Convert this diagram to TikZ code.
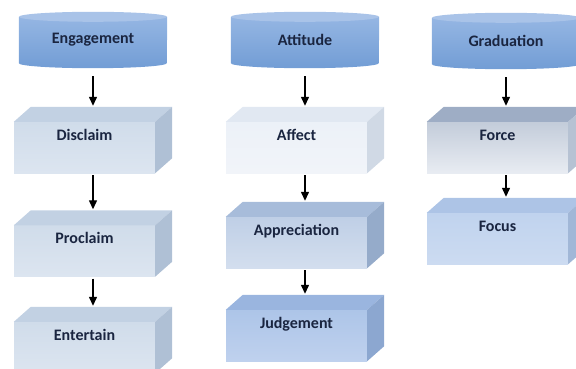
\documentclass[tikz,border=0pt]{standalone}
\usepackage{fontspec}
\setmainfont{Carlito}
\usetikzlibrary{arrows.meta,backgrounds}

\definecolor{ink}{HTML}{1A2540}
\definecolor{cylA}{HTML}{95B6E3}
\definecolor{cylB}{HTML}{729DD5}
\definecolor{cyltop}{HTML}{A9C3E8}
\definecolor{engA}{HTML}{D0DCEA}
\definecolor{engB}{HTML}{DCE5F0}
\definecolor{engTop}{HTML}{C2D1E3}
\definecolor{engSide}{HTML}{AFC0D5}
\definecolor{affA}{HTML}{ECF1F8}
\definecolor{affB}{HTML}{F1F4F9}
\definecolor{affTop}{HTML}{E1E8F2}
\definecolor{affSide}{HTML}{D0D9E5}
\definecolor{appA}{HTML}{BFCFE6}
\definecolor{appB}{HTML}{D3DEEE}
\definecolor{appTop}{HTML}{A7BCDA}
\definecolor{appSide}{HTML}{95ABCA}
\definecolor{judA}{HTML}{ADC5E8}
\definecolor{judB}{HTML}{BFD1EE}
\definecolor{judTop}{HTML}{9AB5DF}
\definecolor{judSide}{HTML}{8CA7D0}
\definecolor{forA}{HTML}{C3CCDA}
\definecolor{forB}{HTML}{E8ECF2}
\definecolor{forTop}{HTML}{9EADC5}
\definecolor{forSide}{HTML}{B6C2D3}
\definecolor{focA}{HTML}{C0D3EE}
\definecolor{focB}{HTML}{CCDBF1}
\definecolor{focTop}{HTML}{ADC4E6}
\definecolor{focSide}{HTML}{A1B7D7}

% top and side faces of a slab
\newcommand{\faces}[3]{%
  \fill[#2] (#1.north west) -- ([shift={(17,-15)}]#1.north west)
    -- ([shift={(17,-15)}]#1.north east) -- (#1.north east) -- cycle;
  \fill[#3] (#1.north east) -- ([shift={(17,-15)}]#1.north east)
    -- ([shift={(17,-15)}]#1.south east) -- (#1.south east) -- cycle;
}

\begin{document}
\begin{tikzpicture}[x=1pt, y=-1pt,
    every node/.style={font=\bfseries\fontsize{16}{19}\selectfont, text=ink},
    head/.style={minimum width=148pt, minimum height=46pt, inner sep=0pt},
    slab/.style={minimum width=141pt, inner sep=3pt, text height=15pt, text depth=30pt},
    arr/.style={-{Triangle[length=9pt,width=8pt]}, line width=1.3pt}]
        \useasboundingbox (0,0) rectangle (576,369);

        % headers
        \node[head] (engagement) at (93,40) {Engagement};
        \node[head] (attitude) at (305,40) {Attitude};
        \node[head] (graduation) at (506,41) {Graduation};

        \begin{scope}[on background layer]
            \foreach \h in {engagement, attitude, graduation} {
                \shade[top color=cylA, bottom color=cylB] (\h.north west) -- (\h.south west)
                    arc[start angle=180, end angle=360, x radius=74pt, y radius=5pt]
                    -- (\h.north east) -- cycle;
                \fill[cyltop] (\h.north) ellipse[x radius=74pt, y radius=5pt];
            }
        \end{scope}

        % slabs
        \node[slab, top color=engA, bottom color=engB] (disclaim) at (84.5,147.5) {Disclaim};
        \node[slab, top color=engA, bottom color=engB] (proclaim) at (84.5,251) {Proclaim};
        \node[slab, top color=engA, bottom color=engB] (entertain) at (84.5,347.5) {Entertain};
        \node[slab, top color=affA, bottom color=affB] (affect) at (296.5,147.5) {Affect};
        \node[slab, top color=appA, bottom color=appB] (appreciation) at (296.5,242.5) {Appreciation};
        \node[slab, top color=judA, bottom color=judB] (judgement) at (296.5,335.5) {Judgement};
        \node[slab, top color=forA, bottom color=forB] (force) at (497.5,147.5) {Force};
        \node[slab, top color=focA, bottom color=focB] (focus) at (497.5,238.5) {Focus};

        \faces{disclaim}{engTop}{engSide}
        \faces{proclaim}{engTop}{engSide}
        \faces{entertain}{engTop}{engSide}
        \faces{affect}{affTop}{affSide}
        \faces{appreciation}{appTop}{appSide}
        \faces{judgement}{judTop}{judSide}
        \faces{force}{forTop}{forSide}
        \faces{focus}{focTop}{focSide}

        % arrows
        \draw[arr, shorten <=13pt] (engagement.south) -- ([shift={(8.5,-16)}]disclaim.north);
        \draw[arr] ([shift={(8.5,2)}]disclaim.south) -- ([shift={(8.5,-16)}]proclaim.north);
        \draw[arr] ([shift={(8.5,2)}]proclaim.south) -- ([shift={(8.5,-16)}]entertain.north);
        \draw[arr, shorten <=13pt] (attitude.south) -- ([shift={(8.5,-16)}]affect.north);
        \draw[arr] ([shift={(8.5,2)}]affect.south) -- ([shift={(8.5,-16)}]appreciation.north);
        \draw[arr] ([shift={(8.5,2)}]appreciation.south) -- ([shift={(8.5,-16)}]judgement.north);
        \draw[arr, shorten <=13pt] (graduation.south) -- ([shift={(8.5,-16)}]force.north);
        \draw[arr] ([shift={(8.5,2)}]force.south) -- ([shift={(8.5,-16)}]focus.north);
\end{tikzpicture}
\end{document}
